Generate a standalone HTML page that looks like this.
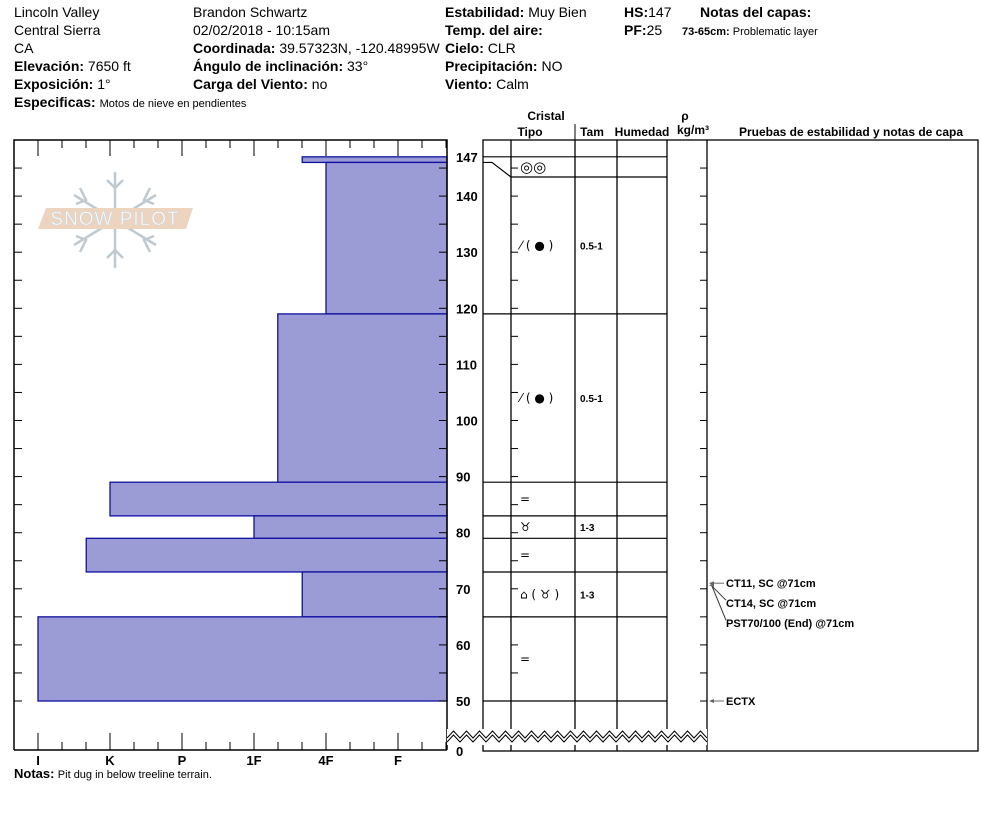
<!DOCTYPE html>
<html><head><meta charset="utf-8"><style>
html,body{margin:0;padding:0;background:#fff;}
svg{display:block;font-family:"Liberation Sans",Arial,sans-serif;}
.h{font-size:14px;fill:#000}
.b{font-weight:bold}
</style></head><body>
<svg id="svg" width="994" height="840" viewBox="0 0 994 840" xmlns="http://www.w3.org/2000/svg">
<g>
<text class="h" x="14" y="17">Lincoln Valley</text>
<text class="h" x="14" y="35">Central Sierra</text>
<text class="h" x="14" y="53">CA</text>
<text class="h" x="14" y="71"><tspan class="b">Elevación:</tspan> 7650 ft</text>
<text class="h" x="14" y="89"><tspan class="b">Exposición:</tspan> 1°</text>
<text class="h" x="14" y="107"><tspan class="b">Especificas:</tspan> <tspan font-size="11">Motos de nieve en pendientes</tspan></text>
<text class="h" x="193" y="17">Brandon Schwartz</text>
<text class="h" x="193" y="35">02/02/2018 - 10:15am</text>
<text class="h" x="193" y="53"><tspan class="b">Coordinada:</tspan> 39.57323N, -120.48995W</text>
<text class="h" x="193" y="71"><tspan class="b">Ángulo de inclinación:</tspan> 33°</text>
<text class="h" x="193" y="89"><tspan class="b">Carga del Viento:</tspan> no</text>
<text class="h" x="445" y="17"><tspan class="b">Estabilidad:</tspan> Muy Bien</text>
<text class="h" x="445" y="35"><tspan class="b">Temp. del aire:</tspan></text>
<text class="h" x="445" y="53"><tspan class="b">Cielo:</tspan> CLR</text>
<text class="h" x="445" y="71"><tspan class="b">Precipitación:</tspan> NO</text>
<text class="h" x="445" y="89"><tspan class="b">Viento:</tspan>  Calm</text>
<text class="h" x="624" y="17"><tspan class="b">HS:</tspan>147</text>
<text class="h" x="624" y="35"><tspan class="b">PF:</tspan>25</text>
<text class="h b" x="700" y="17">Notas del capas:</text>
<text x="682" y="35" font-size="11"><tspan class="b">73-65cm:</tspan> Problematic layer</text>
</g>
<g opacity="0.9">
<g stroke="#b8c4cc" stroke-width="2.5" fill="none">
<line x1="115" y1="172" x2="115" y2="268"/><line x1="74" y1="195" x2="156" y2="245"/><line x1="74" y1="245" x2="156" y2="195"/>
<path d="M107 180 L115 188 L123 180 M107 258 L115 250 L123 258 M80 188 L86 200 L76 204 M150 188 L144 200 L154 204 M80 252 L86 240 L76 236 M150 252 L144 240 L154 236"/>
</g>
<polygon points="46,208 193,208 186,229 38,229" fill="#ecd0b8"/>
<text x="115" y="225" text-anchor="middle" font-size="19" fill="#fff" stroke="#c8d0d8" stroke-width="0.6" letter-spacing="1">SNOW PILOT</text>
</g>
<g id="hard"></g>
<g id="right"></g>
<text x="14" y="778" font-size="12"><tspan class="b" font-size="13">Notas:</tspan> <tspan font-size="11">Pit dug in below treeline terrain.</tspan></text>
</svg>
<script>
// data
const layerTops=[147,146,119,89,83,79,73,65];
const layerBottoms=[146,119,89,83,79,73,65,50];
const hardness=[3.67,4,3.33,1,3,0.67,3.67,0];
const hardLabels=['I','K','P','1F','4F','F'];
const depthTicks=[50,60,70,80,90,100,110,120,130,140];
const crystalTops=[147,143.4,119,89,83,79,73,65];
const crystalBottoms=[143.4,119,89,83,79,73,65,50];
const crystalType=['◎◎','⁄ ( ● )','⁄ ( ● )','=','♉','=','⌂ ( ♉ )','='];
const crystalSize=['','0.5-1','0.5-1','','1-3','','1-3',''];
const testLabels=['CT11, SC @71cm','CT14, SC @71cm','PST70/100 (End) @71cm','ECTX'];
const testDepths=[71,71,71,50];
const NS='http://www.w3.org/2000/svg';
const y=d=>701-(d-50)*5.61;
const x=v=>38+v*72;
function mk(parent,tag,a,txt){const e=document.createElementNS(NS,tag);for(const k in a)e.setAttribute(k,a[k]);if(txt!==undefined)e.textContent=txt;parent.appendChild(e);return e;}
const H=document.getElementById('hard'),R=document.getElementById('right');
layerTops.forEach((t,i)=>{
 const r=mk(H,'rect',{x:x(hardness[i]),y:y(t),width:447-x(hardness[i]),height:y(layerBottoms[i])-y(t),fill:'#9b9bd5',stroke:'#1010a0','stroke-width':1.3});
 
 
});
mk(H,'polyline',{points:'14,750 14,140 447,140 447,750',fill:'none',stroke:'#000','stroke-width':1.5});
mk(H,'line',{x1:14,y1:750,x2:447,y2:750,stroke:'#000','stroke-width':1.5});
for(let k=0;k<=17;k++){const xx=x(k/3);if(xx>447)break;const maj=k%3===0;
 mk(H,'line',{x1:xx,y1:140,x2:xx,y2:maj?156:148,stroke:'#000'});
 mk(H,'line',{x1:xx,y1:750,x2:xx,y2:maj?733:742,stroke:'#000'});}
hardLabels.forEach((l,i)=>{const t=mk(H,'text',{x:x(i),y:765,'text-anchor':'middle','font-size':13,'font-weight':'bold'},l);
 
 });
for(let d=50;d<=145;d+=5){mk(H,'line',{x1:14,y1:y(d),x2:22,y2:y(d),stroke:'#000'});mk(H,'line',{x1:439,y1:y(d),x2:447,y2:y(d),stroke:'#000'});
 mk(R,'line',{x1:511,y1:y(d),x2:518,y2:y(d),stroke:'#000'});mk(R,'line',{x1:700,y1:y(d),x2:707,y2:y(d),stroke:'#000'});}
depthTicks.concat([147]).forEach(d=>{const t=mk(H,'text',{x:456,y:y(d)+5,'font-size':13,'font-weight':'bold'},d);
 
 });
mk(H,'text',{x:456,y:756,'font-size':13,'font-weight':'bold'},'0');
mk(R,'rect',{x:483,y:140,width:495,height:611,fill:'none',stroke:'#000','stroke-width':1.3});
[511,575,617,667,707].forEach(c=>mk(R,'line',{x1:c,y1:140,x2:c,y2:751,stroke:'#000','stroke-width':1.3}));
[['Cristal',546,120],['Tipo',530,136],['Tam',592,136],['Humedad',642,136],['ρ',685,120],['kg/m³',693,134],['Pruebas de estabilidad y notas de capa',851,136]].forEach(a=>mk(R,'text',{x:a[1],y:a[2],'text-anchor':'middle','font-size':12,'font-weight':'bold'},a[0]));
mk(R,'line',{x1:575,y1:124,x2:575,y2:140,stroke:'#000'});
crystalTops.forEach((t,i)=>{
 const yb=y(crystalBottoms[i]);
 if(i===0){mk(R,'line',{x1:483,y1:y(t),x2:667,y2:y(t),stroke:'#000','stroke-width':1.2});
  mk(R,'polyline',{points:`483,${y(layerBottoms[0])} 492,${y(layerBottoms[0])} 511,${yb} 667,${yb}`,fill:'none',stroke:'#000','stroke-width':1.2});}
 else mk(R,'line',{x1:483,y1:yb,x2:667,y2:yb,stroke:'#000','stroke-width':1.2});
 const ym=(y(t)+yb)/2+4;
 const s=mk(R,'text',{x:520,y:ym+(i===0?1:0),'font-size':i===0?15:12,'font-family':'DejaVu Sans'},crystalType[i]);
 
 
 if(crystalSize[i]){const z=mk(R,'text',{x:580,y:ym,'font-size':10,'font-weight':'bold'},crystalSize[i]);
  
  }
});
testLabels.forEach((l,i)=>{
 const ya=y(testDepths[i]);const yt=ya+i*20*(i<3?1:0);
 if(i===0||i===3) mk(R,'line',{x1:710,y1:ya,x2:724,y2:ya,stroke:'#666'});
 else mk(R,'line',{x1:712,y1:ya+3,x2:726,y2:yt-3,stroke:'#333'});
 mk(R,'path',{d:`M709 ${i===0||i===3?ya:ya+2} l5 -2 l0 4z`,fill:'#666'});
 const t=mk(R,'text',{x:726,y:yt+4,'font-size':11,'font-weight':'bold'},l);
 
 
});
let p1='',p2='';for(let xx=447,k=0;xx<=707;xx+=6.5,k++){const yy=k%2?731:738;p1+=`${xx},${yy} `;p2+=`${xx},${yy+4} `;}
mk(R,'rect',{x:447,y:729,width:260,height:16,fill:'#fff'});
mk(R,'polyline',{points:p1,fill:'none',stroke:'#000'});
mk(R,'polyline',{points:p2,fill:'none',stroke:'#000'});
</script>
</body></html>
